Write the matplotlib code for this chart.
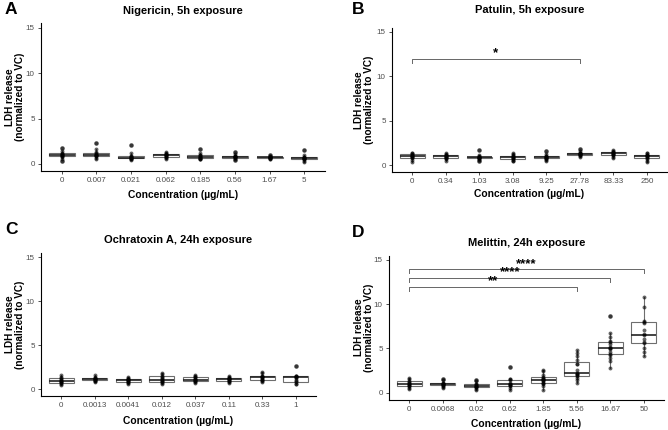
import numpy as np
import matplotlib
matplotlib.use("Agg")
import matplotlib.pyplot as plt

plt.rcParams['font.family'] = ['Liberation Sans', 'DejaVu Sans']

# ---- data ----
nig_conc = ['0', '0.007', '0.021', '0.062', '0.185', '0.56', '1.67', '5']
nig_vals = [
    [0.3, 0.55, 0.78, 0.85, 0.92, 0.98, 1.02, 1.08, 1.15, 1.22, 1.45, 1.8],
    [0.5, 0.7, 0.85, 0.9, 0.95, 1.0, 1.02, 1.1, 1.2, 1.28, 1.6, 2.3],
    [0.4, 0.5, 0.58, 0.62, 0.66, 0.7, 0.72, 0.8, 0.88, 0.92, 1.2, 2.05],
    [0.5, 0.65, 0.78, 0.82, 0.9, 0.94, 0.98, 1.02, 1.08, 1.12, 1.2, 1.3],
    [0.5, 0.55, 0.6, 0.62, 0.7, 0.74, 0.78, 0.85, 0.95, 1.0, 1.2, 1.65],
    [0.4, 0.55, 0.68, 0.72, 0.76, 0.8, 0.82, 0.85, 0.88, 0.9, 1.05, 1.3],
    [0.5, 0.58, 0.64, 0.66, 0.7, 0.72, 0.74, 0.76, 0.78, 0.8, 0.9, 1.0],
    [0.2, 0.35, 0.5, 0.55, 0.6, 0.64, 0.66, 0.7, 0.78, 0.82, 1.0, 1.5],
]

pat_conc = ['0', '0.34', '1.03', '3.08', '9.25', '27.78', '83.33', '250']
pat_vals = [
    [0.3, 0.6, 0.78, 0.85, 0.92, 0.98, 1.02, 1.1, 1.18, 1.22, 1.3, 1.4],
    [0.5, 0.65, 0.78, 0.82, 0.9, 0.94, 0.98, 1.02, 1.08, 1.12, 1.25, 1.4],
    [0.4, 0.6, 0.72, 0.76, 0.8, 0.84, 0.86, 0.9, 0.94, 0.96, 1.1, 1.65],
    [0.4, 0.5, 0.62, 0.68, 0.75, 0.82, 0.88, 0.95, 1.02, 1.08, 1.25, 1.4],
    [0.4, 0.6, 0.72, 0.76, 0.8, 0.84, 0.88, 0.92, 0.98, 1.02, 1.2, 1.55],
    [0.9, 1.0, 1.12, 1.16, 1.2, 1.24, 1.26, 1.3, 1.34, 1.38, 1.6, 1.8],
    [0.8, 0.95, 1.08, 1.12, 1.2, 1.28, 1.32, 1.38, 1.44, 1.48, 1.6, 1.7],
    [0.3, 0.45, 0.72, 0.78, 0.88, 0.98, 1.02, 1.08, 1.12, 1.18, 1.3, 1.4],
]

och_conc = ['0', '0.0013', '0.0041', '0.012', '0.037', '0.11', '0.33', '1']
och_vals = [
    [0.5, 0.6, 0.72, 0.78, 0.88, 0.94, 0.98, 1.1, 1.22, 1.28, 1.45, 1.6],
    [0.8, 0.9, 0.98, 1.02, 1.08, 1.14, 1.16, 1.2, 1.24, 1.28, 1.45, 1.6],
    [0.6, 0.7, 0.82, 0.88, 0.95, 1.02, 1.06, 1.1, 1.16, 1.22, 1.3, 1.4],
    [0.6, 0.72, 0.82, 0.9, 1.0, 1.08, 1.12, 1.25, 1.45, 1.52, 1.7, 1.85],
    [0.7, 0.8, 0.92, 0.98, 1.04, 1.08, 1.12, 1.22, 1.36, 1.42, 1.55, 1.65],
    [0.7, 0.8, 0.92, 0.98, 1.06, 1.12, 1.16, 1.22, 1.28, 1.32, 1.45, 1.55],
    [0.8, 0.9, 1.02, 1.08, 1.2, 1.32, 1.38, 1.42, 1.48, 1.52, 1.8, 1.95],
    [0.55, 0.65, 0.8, 0.9, 1.1, 1.32, 1.38, 1.44, 1.48, 1.52, 1.55, 2.6],
]

mel_conc = ['0', '0.0068', '0.02', '0.62', '1.85', '5.56', '16.67', '50']
mel_vals = [
    [0.4, 0.55, 0.72, 0.78, 0.88, 0.95, 1.0, 1.08, 1.25, 1.35, 1.55, 1.7],
    [0.5, 0.65, 0.78, 0.84, 0.9, 0.95, 0.98, 1.02, 1.08, 1.12, 1.4, 1.6],
    [0.25, 0.45, 0.62, 0.66, 0.7, 0.74, 0.78, 0.85, 0.95, 1.0, 1.3, 1.45],
    [0.3, 0.55, 0.78, 0.82, 0.88, 0.94, 0.98, 1.1, 1.4, 1.55, 1.6, 2.85],
    [0.25, 0.8, 1.0, 1.05, 1.1, 1.3, 1.4, 1.45, 1.5, 1.6, 1.7, 1.75, 2.0, 2.4, 2.55],
    [1.05, 1.45, 1.65, 1.9, 1.95, 2.1, 2.15, 2.25, 2.6, 3.2, 3.3, 3.7, 4.15, 4.5, 4.85],
    [2.8, 3.6, 3.9, 4.3, 4.4, 4.6, 4.9, 5.0, 5.1, 5.2, 5.5, 5.7, 5.8, 6.3, 6.7, 8.7],
    [4.2, 4.6, 5.1, 5.6, 5.7, 6.1, 6.5, 6.6, 7.1, 7.9, 8.0, 8.1, 9.7, 10.8],
]

# significance brackets: (start index, end index, height, label)
pat_sig = [(0, 5, 12, '*')]
mel_sig = [(0, 5, 12, '**'), (0, 6, 13, '****'), (0, 7, 14, '****')]

W, H = 668, 430
YMIN, YMAX = -0.78, 15.5
fig = plt.figure(figsize=(W / 100, H / 100), dpi=100)


def make_axes(left, right, y0, y15):
    ppu = (y0 - y15) / 15.0
    bottom = y0 - YMIN * ppu
    top = y15 - (YMAX - 15) * ppu
    return fig.add_axes([left / W, 1 - bottom / H, (right - left) / W, (bottom - top) / H])


def panel(ax, conc, vals, title, letter, sig, lx, ly, ty, ylx, xly):
    ax.boxplot(vals, positions=range(len(vals)), widths=0.75, patch_artist=True,
               showcaps=False,
               boxprops=dict(facecolor='white', edgecolor='#6e6e6e', linewidth=0.8),
               medianprops=dict(color='#222222', linewidth=1.2),
               whiskerprops=dict(color='#6e6e6e', linewidth=0.8),
               flierprops=dict(marker='o', markerfacecolor='#8a8a8a', markeredgecolor='none',
                               markersize=3.4))
    for i, v in enumerate(vals):
        ax.scatter(np.full(len(v), i), v, s=8, color='black', alpha=0.6,
                   linewidths=0, zorder=3)
    for a, b, h, lab in sig:
        ax.plot([a, a, b, b], [h - 0.45, h, h, h - 0.45], color='#666666',
                lw=0.7, clip_on=False)
        ax.text((a + b) / 2, h - 0.1, lab, ha='center', va='bottom', fontsize=9.5,
                fontweight='bold')
    ax.set_xlim(-0.6, len(vals) - 0.4)
    ax.set_ylim(YMIN, YMAX)
    ax.set_yticks([0, 5, 10, 15])
    ax.set_xticks(range(len(vals)))
    ax.set_xticklabels(conc)
    ax.tick_params(labelsize=5.8, labelcolor='#4d4d4d', length=2.5, width=0.6,
                   color='#333333', pad=2)
    for s in ['top', 'right']:
        ax.spines[s].set_visible(False)
    for s in ['left', 'bottom']:
        ax.spines[s].set_linewidth(0.8)
    box = ax.get_position()
    cx = (box.x0 + box.x1) / 2
    cy = (box.y0 + box.y1) / 2
    fig.text(cx, 1 - ty / H, title, ha='center', va='center', fontsize=8,
             fontweight='bold')
    fig.text(cx, 1 - xly / H, 'Concentration (µg/mL)', ha='center', va='center',
             fontsize=7.4, fontweight='bold')
    fig.text(ylx / W, cy, 'LDH release\n(normalized to VC)', ha='center', va='center',
             rotation=90, fontsize=7.2, fontweight='bold', linespacing=1.0)
    fig.text(lx / W, 1 - ly / H, letter, ha='center', va='center', fontsize=12.5,
             fontweight='bold')


axA = make_axes(41, 325, 164, 28)
axB = make_axes(392, 667, 165, 32)
axC = make_axes(41, 316, 389.3, 257.3)
axD = make_axes(389, 664, 392.7, 260)

panel(axA, nig_conc, nig_vals, 'Nigericin, 5h exposure', 'A', [], 11, 10, 11, 15, 195)
panel(axB, pat_conc, pat_vals, 'Patulin, 5h exposure', 'B', pat_sig, 358, 9, 10, 364, 194)
panel(axC, och_conc, och_vals, 'Ochratoxin A, 24h exposure', 'C', [], 11, 230, 240, 15, 421.5)
panel(axD, mel_conc, mel_vals, 'Melittin, 24h exposure', 'D', mel_sig, 358, 232, 243, 364, 424)

fig.savefig('out.png', dpi=100)
